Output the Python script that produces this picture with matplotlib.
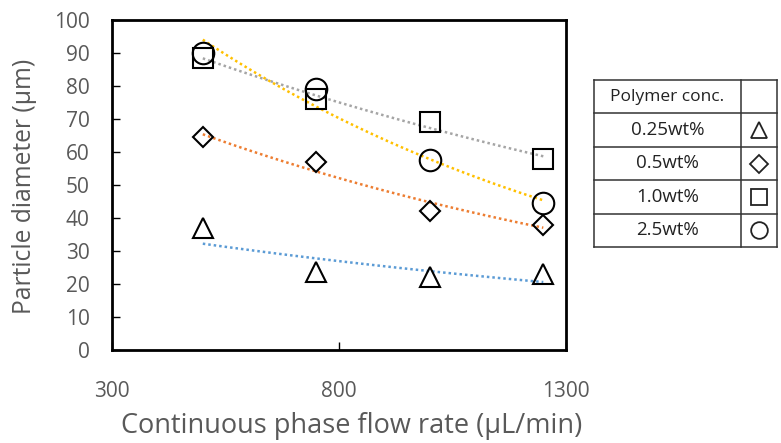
import numpy as np
import matplotlib
matplotlib.use("Agg")
import matplotlib.pyplot as plt

# Flow rate of the continuous phase (uL/min)
flow_rate = [500, 750, 1000, 1250]

# Particle diameter (um) for each polymer concentration
d_025 = [37, 23.5, 22, 23]
d_05 = [64.5, 57, 42, 38]
d_10 = [88.5, 76, 69, 58]
d_25 = [90, 79, 57.5, 44.5]

series_labels = ["0.25wt%", "0.5wt%", "1.0wt%", "2.5wt%"]
series_values = [d_025, d_05, d_10, d_25]
markers = ["^", "D", "s", "o"]
marker_sizes = [14, 10.5, 15, 15.5]
legend_marker_sizes = [12, 9, 11.5, 12]
trend_colors = ["#5B9BD5", "#ED7D31", "#A5A5A5", "#FFC000"]

x_ticks = [300, 800, 1300]
y_ticks = list(range(0, 101, 10))

plt.rcParams["font.family"] = ["Open Sans", "DejaVu Sans"]
text_gray = "#595959"

fig = plt.figure(figsize=(7.81, 4.43), dpi=100)
ax = fig.add_axes([112 / 781, 93 / 443, 454 / 781, 330 / 443])

x = np.array(flow_rate, dtype=float)
xs = np.linspace(x.min(), x.max(), 100)
for vals, mk, ms, col in zip(series_values, markers, marker_sizes, trend_colors):
    y = np.array(vals, dtype=float)
    # exponential trendline: y = a * exp(b * x)
    b, loga = np.polyfit(x, np.log(y), 1)
    ax.plot(xs, np.exp(loga + b * xs), linestyle=(0, (1, 1.2)), color=col, lw=1.8, zorder=2)
    ax.plot(x, y, linestyle="none", marker=mk, ms=ms, mfc="none", mec="black", mew=1.5, zorder=3)

ax.set_xlim(300, 1300)
ax.set_ylim(0, 100)
ax.set_xticks(x_ticks)
ax.set_yticks(y_ticks)
ax.tick_params(axis="x", direction="in", length=6, width=1, pad=22, labelsize=15, labelcolor=text_gray)
ax.tick_params(axis="y", direction="in", length=6, width=1, pad=16, labelsize=15, labelcolor=text_gray)
for sp in ax.spines.values():
    sp.set_linewidth(2)
    sp.set_color("black")

fig.text(25 / 781, 1 - 186 / 443, "Particle diameter (\u03bcm)", rotation=90, ha="center", va="center",
         fontsize=17.7, color=text_gray)
fig.text(352 / 781, 1 - 426 / 443, "Continuous phase flow rate (\u03bcL/min)", ha="center", va="center",
         fontsize=19.5, color=text_gray)

# Legend drawn as a small table
left, right, split, top, bottom = 594, 777, 741, 80, 247
tab = fig.add_axes([left / 781, 1 - bottom / 443, (right - left) / 781, (bottom - top) / 443])
tab.set_xlim(left, right)
tab.set_ylim(bottom, top)
tab.axis("off")
n_rows = len(series_labels) + 1
row_h = (bottom - top) / n_rows
for i in range(n_rows + 1):
    tab.plot([left, right], [top + i * row_h] * 2, color="#333333", lw=1.1, clip_on=False)
for xv in (left, split, right):
    tab.plot([xv, xv], [top, bottom], color="#333333", lw=1.1, clip_on=False)
tab.text((left + split) / 2, top + row_h / 2, "Polymer conc.", ha="center", va="center",
         fontsize=12.5, color="#222222")
for i, (lab, mk, lms) in enumerate(zip(series_labels, markers, legend_marker_sizes)):
    yc = top + (i + 1.5) * row_h
    tab.text((left + split) / 2, yc, lab, ha="center", va="center", fontsize=13.5, color="#222222")
    tab.plot([(split + right) / 2], [yc], marker=mk, ms=lms,
             mfc="none", mec="#222222", mew=1.3, clip_on=False)

fig.savefig("out.png", dpi=100)
